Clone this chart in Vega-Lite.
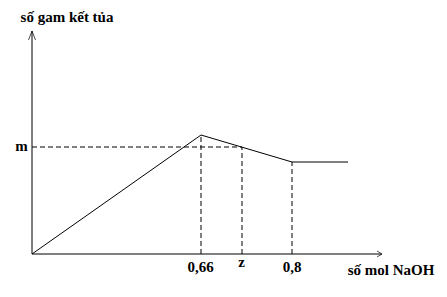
{
  "$schema": "https://vega.github.io/schema/vega-lite/v6.json",
  "width": 447,
  "height": 297,
  "padding": 0,
  "autosize": {"type": "none"},
  "background": "white",
  "config": {"view": {"stroke": null}},
  "datasets": {
    "curve": [
      {"x": 0, "y": 0, "o": 1},
      {"x": 16.9, "y": 11.9, "o": 2},
      {"x": 26, "y": 9.2, "o": 3},
      {"x": 31.6, "y": 9.2, "o": 4}
    ],
    "axes": [
      {"x": 0, "y": 0, "x2": 0, "y2": 22.3},
      {"x": 0, "y": 0, "x2": 35.0, "y2": 0}
    ],
    "dashes": [
      {"x": 0, "y": 10.7, "x2": 21, "y2": 10.7},
      {"x": 16.9, "y": 0, "x2": 16.9, "y2": 11.9},
      {"x": 21, "y": 0, "x2": 21, "y2": 10.7},
      {"x": 26, "y": 0, "x2": 26, "y2": 9.2}
    ],
    "arrowUp": [{"x": 0, "y": 22.3}],
    "arrowRight": [{"x": 35.0, "y": 0}],
    "labels": [
      {"x": 3.5, "y": 23.2, "t": "số gam kết tủa"},
      {"x": -1.05, "y": 10.3, "t": "m"},
      {"x": 16.85, "y": -1.8, "t": "0,66"},
      {"x": 20.95, "y": -1.3, "t": "z"},
      {"x": 26, "y": -1.8, "t": "0,8"},
      {"x": 35.9, "y": -2.1, "t": "số mol NaOH"}
    ]
  },
  "encoding": {
    "x": {"field": "x", "type": "quantitative", "scale": {"domain": [-3.2, 41.5], "nice": false, "zero": false}, "axis": null},
    "y": {"field": "y", "type": "quantitative", "scale": {"domain": [-4.3, 25.4], "nice": false, "zero": false}, "axis": null}
  },
  "layer": [
    {
      "data": {"name": "axes"},
      "mark": {"type": "rule", "color": "black", "strokeWidth": 1},
      "encoding": {"x2": {"field": "x2"}, "y2": {"field": "y2"}}
    },
    {
      "data": {"name": "dashes"},
      "mark": {"type": "rule", "color": "black", "strokeWidth": 1, "strokeDash": [5, 3]},
      "encoding": {"x2": {"field": "x2"}, "y2": {"field": "y2"}}
    },
    {
      "data": {"name": "curve"},
      "mark": {"type": "line", "color": "black", "strokeWidth": 1},
      "encoding": {"order": {"field": "o"}}
    },
    {
      "data": {"name": "arrowUp"},
      "mark": {"type": "point", "filled": false, "stroke": "black", "strokeWidth": 1, "size": 16, "shape": "M-1.75,4.5L0,0L1.75,4.5"}
    },
    {
      "data": {"name": "arrowRight"},
      "mark": {"type": "point", "filled": false, "stroke": "black", "strokeWidth": 1, "size": 16, "shape": "M-2.5,-1.5L0,0L-2.5,1.5"}
    },
    {
      "data": {"name": "labels"},
      "mark": {"type": "text", "font": "Liberation Serif", "fontWeight": "bold", "fontSize": 15, "color": "black", "baseline": "alphabetic", "align": "center"},
      "encoding": {"text": {"field": "t"}}
    }
  ]
}
